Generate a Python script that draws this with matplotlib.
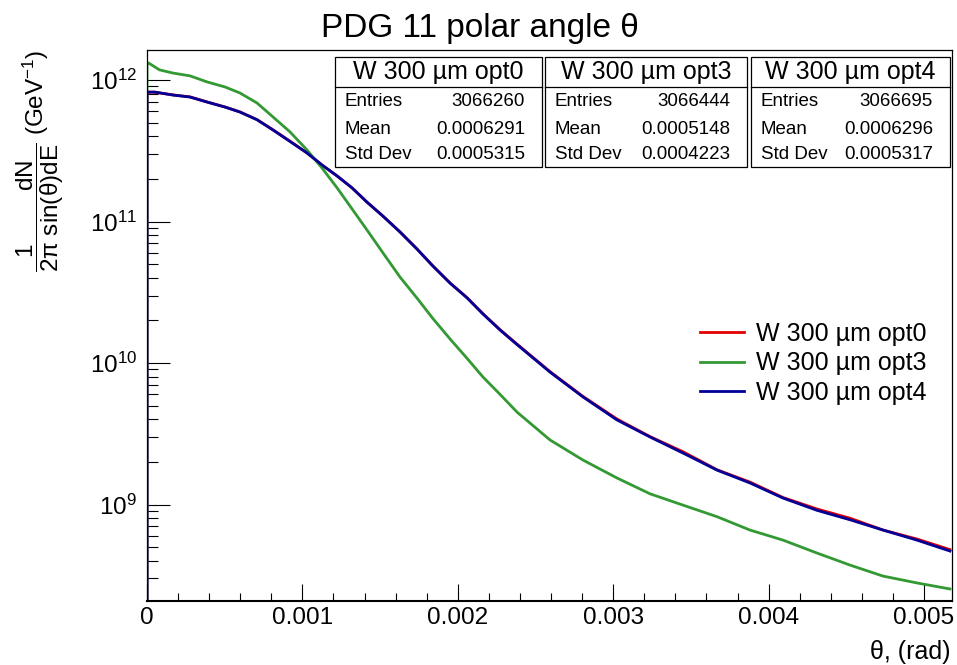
import matplotlib
matplotlib.use("Agg")
import matplotlib.pyplot as plt
import numpy as np
from matplotlib.patches import Rectangle
from matplotlib.ticker import FixedLocator, FixedFormatter, LogLocator, NullFormatter

plt.rcParams['font.family'] = ['Liberation Sans', 'DejaVu Sans']
plt.rcParams['mathtext.fontset'] = 'custom'
plt.rcParams['mathtext.rm'] = 'Liberation Sans'
plt.rcParams['mathtext.it'] = 'Liberation Sans'
plt.rcParams['mathtext.bf'] = 'Liberation Sans:bold'

# theta (rad) where opt0 / opt4 were read
theta_a = [0.00005, 0.000167, 0.000277, 0.000386, 0.000502, 0.000598, 0.000708,
           0.000811, 0.00092, 0.00103, 0.001126, 0.001223, 0.001319, 0.001416,
           0.001519, 0.001628, 0.001737, 0.00184, 0.00195, 0.002059, 0.002162,
           0.002272, 0.002381, 0.002593, 0.002806, 0.003024, 0.003237, 0.003449,
           0.003668, 0.00388, 0.004093, 0.004311, 0.004524, 0.004736, 0.004955,
           0.005167]
# 1/(2pi sin(theta) dE) dN, GeV^-1
opt0 = [8.2e11, 7.85e11, 7.6e11, 7.0e11, 6.45e11, 5.95e11, 5.25e11,
        4.45e11, 3.7e11, 3.05e11, 2.51e11, 2.1e11, 1.73e11, 1.37e11,
        1.09e11, 8.45e10, 6.4e10, 4.85e10, 3.68e10, 2.9e10, 2.23e10,
        1.72e10, 1.36e10, 8.7e9, 5.8e9, 4.02e9, 3.02e9, 2.36e9,
        1.76e9, 1.44e9, 1.12e9, 9.3e8, 8.0e8, 6.6e8, 5.7e8,
        4.8e8]
opt4 = [8.22e11, 7.83e11, 7.58e11, 6.99e11, 6.44e11, 5.94e11, 5.24e11,
        4.43e11, 3.68e11, 3.05e11, 2.51e11, 2.10e11, 1.73e11, 1.37e11,
        1.09e11, 8.43e10, 6.40e10, 4.84e10, 3.67e10, 2.89e10, 2.22e10,
        1.71e10, 1.35e10, 8.63e9, 5.75e9, 3.96e9, 3.0e9, 2.31e9,
        1.75e9, 1.42e9, 1.11e9, 9.1e8, 7.8e8, 6.6e8, 5.6e8,
        4.69e8]

# theta (rad) where opt3 was read
theta_b = [0.00001, 0.00008, 0.000167, 0.000277, 0.000386, 0.000502, 0.000598,
           0.000708, 0.000811, 0.00092, 0.00103, 0.001126, 0.001223, 0.001319,
           0.001416, 0.001519, 0.001628, 0.001737, 0.00184, 0.00195, 0.002059,
           0.002162, 0.002272, 0.002381, 0.002593, 0.002806, 0.003024, 0.003237,
           0.003449, 0.003668, 0.00388, 0.004093, 0.004311, 0.004524, 0.004736,
           0.004955, 0.005167]
opt3 = [1.32e12, 1.18e12, 1.12e12, 1.07e12, 9.7e11, 8.93e11, 8.1e11,
        6.88e11, 5.48e11, 4.3e11, 3.2e11, 2.39e11, 1.73e11, 1.23e11,
        8.7e10, 5.99e10, 4.05e10, 2.88e10, 2.06e10, 1.48e10, 1.08e10,
        7.96e9, 6.0e9, 4.5e9, 2.86e9, 2.06e9, 1.54e9, 1.19e9,
        9.9e8, 8.2e8, 6.6e8, 5.6e8, 4.54e8, 3.73e8, 3.12e8,
        2.79e8, 2.53e8]

labels = ['W 300 µm opt0', 'W 300 µm opt3', 'W 300 µm opt4']
colors = ['#e00000', '#339933', '#000099']
entries = ['3066260', '3066444', '3066695']
means = ['0.0006291', '0.0005148', '0.0006296']
stds = ['0.0005315', '0.0004223', '0.0005317']

xticks = [0, 0.001, 0.002, 0.003, 0.004, 0.005]
xticklabels = ['0', '0.001', '0.002', '0.003', '0.004', '0.005']

W, H = 957, 665
ymin, ymax = 2.08e8, 1.63e12

fig = plt.figure(figsize=(W / 100, H / 100), dpi=100)
ax = fig.add_axes([147 / W, 1 - 601 / H, (952 - 147) / W, (601 - 50) / H])

series = [(theta_a, opt0), (theta_b, opt3), (theta_a, opt4)]
for (th, vals), lab, col in zip(series, labels, colors):
    # histogram starts from the axis floor at theta = 0
    ax.plot(np.r_[0, 0, th], np.r_[ymin, vals[0], vals], color=col,
            lw=2.0, label=lab)

ax.set_yscale('log')
ax.set_xlim(0, 0.00518)
ax.set_ylim(ymin, ymax)

ax.xaxis.set_major_locator(FixedLocator(xticks))
ax.xaxis.set_major_formatter(FixedFormatter(xticklabels))
ax.xaxis.set_minor_locator(FixedLocator(np.arange(0, 0.0052, 0.0002)))
ax.yaxis.set_major_locator(LogLocator(base=10))
ax.yaxis.set_minor_locator(LogLocator(base=10, subs=np.arange(2, 10)))
ax.yaxis.set_minor_formatter(NullFormatter())

ax.tick_params(axis='x', which='major', direction='in', length=12, width=0.8,
               labelsize=17.5, pad=4, top=False)
ax.tick_params(axis='x', which='minor', direction='in', length=6, width=0.8, top=False)
ax.tick_params(axis='y', which='major', direction='in', length=16.5, width=0.8,
               labelsize=17.5, pad=7, right=False)
ax.tick_params(axis='y', which='minor', direction='in', length=8, width=0.8, right=False)
for s in ax.spines.values():
    s.set_linewidth(0.9)
ax.spines['bottom'].set_linewidth(1.5)

fig.text(480 / W, 1 - 28 / H, 'PDG 11 polar angle θ', ha='center', va='center',
         fontsize=24)
fig.text(950 / W, 1 - 652 / H, 'θ, (rad)', ha='right', va='center', fontsize=18)
fig.text(40 / W, 1 - 50 / H,
         r'$\dfrac{1\qquad\ \ \mathrm{dN}}{2\pi\ \sin(\theta)\mathrm{dE}}$ (GeV$^{-1}$)',
         rotation=90, ha='center', va='top', fontsize=17.5)

# stat boxes
lefts = [335, 545, 751]
rights = [542, 747, 950]
for i in range(3):
    L, R = lefts[i], rights[i]
    fig.add_artist(Rectangle((L / W, 1 - 167 / H), (R - L) / W, 110 / H,
                             transform=fig.transFigure, fill=True, fc='white',
                             ec='black', lw=0.9))
    fig.add_artist(plt.Line2D([L / W, R / W], [1 - 87 / H, 1 - 87 / H],
                              transform=fig.transFigure, color='black', lw=0.9))
    fig.text((L + R) / 2 / W, 1 - 72 / H, labels[i], ha='center', va='center',
             fontsize=18)
    for name, val, yy in zip(['Entries', 'Mean', 'Std Dev'],
                             [entries[i], means[i], stds[i]], [101.5, 129, 155]):
        fig.text((L + 10) / W, 1 - yy / H, name, ha='left', va='center', fontsize=13.5)
        fig.text((R - 17) / W, 1 - yy / H, val, ha='right', va='center', fontsize=13.5)

ax.legend(loc='upper left', bbox_to_anchor=(700 / W, 1 - 322 / H),
          bbox_transform=fig.transFigure, frameon=False, fontsize=18,
          handlelength=1.75, handletextpad=0.5, labelspacing=0.22, borderpad=0,
          borderaxespad=0)

fig.savefig('out.png', dpi=100)
